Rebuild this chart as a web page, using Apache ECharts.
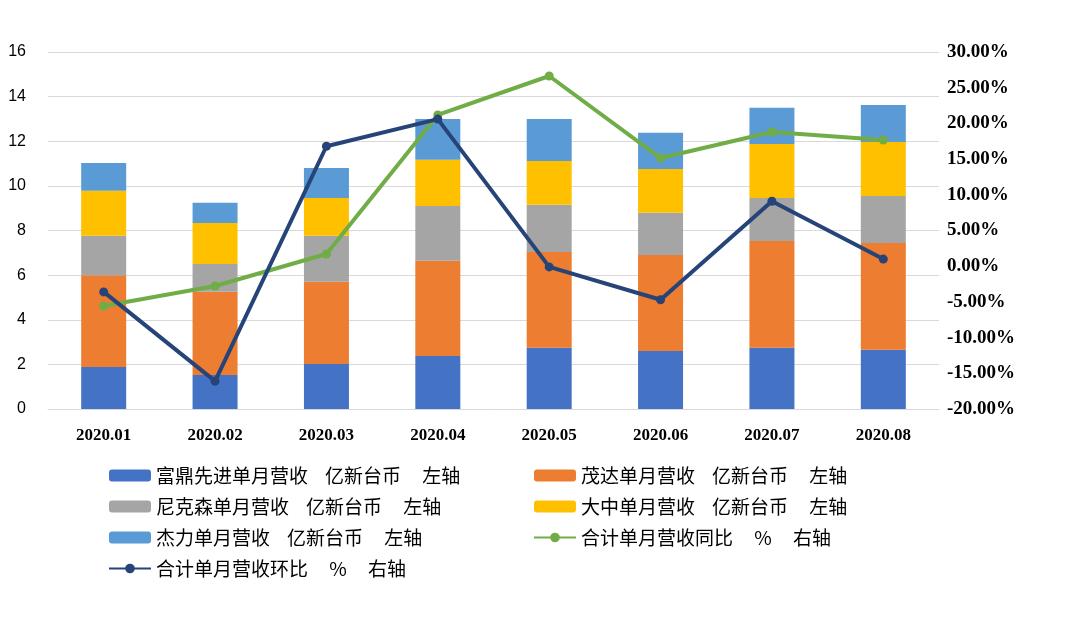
<!DOCTYPE html><html><head><meta charset="utf-8"><script src="https://cdn.jsdelivr.net/npm/echarts@6/dist/echarts.min.js"></script></head><body style="margin:0"><div id="c" style="width:1080px;height:633px"></div><script>
const categories=['2020.01','2020.02','2020.03','2020.04','2020.05','2020.06','2020.07','2020.08'];
const fuding=[1.88,1.52,2.02,2.38,2.74,2.6,2.74,2.65];
const maoda=[4.12,3.73,3.68,4.26,4.3,4.3,4.79,4.79];
const nikesen=[1.76,1.25,2.06,2.46,2.11,1.89,1.93,2.11];
const dazhong=[2.02,1.84,1.7,2.07,1.97,1.97,2.42,2.42];
const jieli=[1.25,0.9,1.34,1.83,1.88,1.62,1.62,1.66];
const yoy=[-5.57,-2.77,1.71,21.18,26.64,15.15,18.8,17.68];
const mom=[-3.6,-16.1,16.8,20.6,-0.1,-4.7,9.1,1.0];
const N=['富鼎先进单月营收    亿新台币     左轴','茂达单月营收    亿新台币     左轴','尼克森单月营收    亿新台币     左轴','大中单月营收    亿新台币     左轴','杰力单月营收    亿新台币     左轴','合计单月营收同比     %     右轴','合计单月营收环比     %     右轴'];
const colors=['#4472C4','#ED7D31','#A5A5A5','#FFC000','#5B9BD5','#70AD47','#264478'];
const bar=(i,d)=>({name:N[i],type:'bar',stack:'a',data:d,barWidth:45,itemStyle:{color:colors[i]}});
const ts={fontSize:19,color:'#000',fontFamily:'Noto Sans CJK SC'};
const c=echarts.init(document.getElementById('c'));
c.setOption({animation:false,
grid:{left:48,right:141,top:52,bottom:224},
legend:[{data:[N[0],N[2],N[4],N[6]],left:103,top:461,orient:'vertical',itemGap:12,itemWidth:42,itemHeight:12,textStyle:ts},
{data:[N[1],N[3],N[5]],left:528,top:461,orient:'vertical',itemGap:12,itemWidth:42,itemHeight:12,textStyle:ts}],
xAxis:{type:'category',data:categories,axisTick:{show:false},axisLine:{lineStyle:{color:'#d9d9d9'}},axisLabel:{fontWeight:'bold',fontSize:17,color:'#000',fontFamily:'Liberation Serif',margin:18}},
yAxis:[{type:'value',min:0,max:16,interval:2,axisLabel:{fontSize:16,color:'#000',margin:22},splitLine:{lineStyle:{color:'#d9d9d9'}}},
{type:'value',min:-20,max:30,interval:5,axisLabel:{fontSize:19,fontWeight:'bold',color:'#000',fontFamily:'Liberation Serif',formatter:v=>v.toFixed(2)+'%'},splitLine:{show:false}}],
series:[bar(0,fuding),bar(1,maoda),bar(2,nikesen),bar(3,dazhong),bar(4,jieli),
{name:N[5],type:'line',yAxisIndex:1,data:yoy,symbol:'circle',symbolSize:9,lineStyle:{width:4,color:colors[5]},itemStyle:{color:colors[5]}},
{name:N[6],type:'line',yAxisIndex:1,data:mom,symbol:'circle',symbolSize:9,lineStyle:{width:4,color:colors[6]},itemStyle:{color:colors[6]}}]});
</script></body></html>
